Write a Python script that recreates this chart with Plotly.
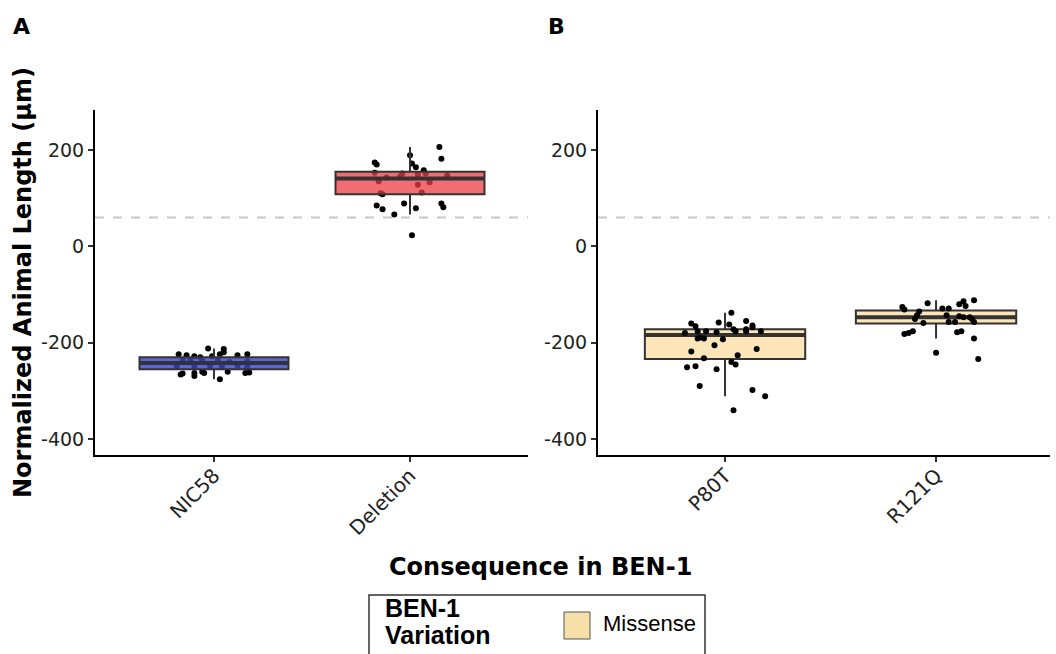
import plotly.graph_objects as go

W, H = 1056, 654

# ---------------- data ----------------
categories_A = ["NIC58", "Deletion"]
categories_B = ["P80T", "R121Q"]

# box statistics
q1_A = [-255, 108]
median_A = [-242, 141]
q3_A = [-230, 155]
lowerfence_A = [-276, 66]
upperfence_A = [-212, 206]

q1_B = [-234, -160]
median_B = [-184, -147]
q3_B = [-172, -133]
lowerfence_B = [-311, -191]
upperfence_B = [-138, -112]

reference_line = 60

# individual animals: jitter offset (category units) and value
nic58_offset = [-0.18, -0.14, -0.10, -0.07, -0.03, -0.01, 0.03, 0.05, 0.05, 0.12, 0.17,
                -0.16, -0.12, -0.06, 0.02, 0.08, 0.17, -0.19, -0.10, -0.02, 0.04, 0.12,
                0.17, -0.17, -0.16, -0.10, -0.10, -0.06, -0.05, 0.07, 0.03, 0.16, 0.18]
nic58_value = [-224, -226, -228, -230, -212, -228, -224, -213, -220, -226, -224,
               -236, -237, -238, -237, -240, -239, -249, -249, -248, -250, -247,
               -250, -266, -264, -263, -269, -260, -263, -260, -276, -263, -262]

deletion_offset = [0.15, 0.16, 0.00, 0.01, 0.03, -0.18, -0.17, 0.07, 0.08, -0.18,
                   -0.04, 0.04, 0.10, 0.19, -0.12, -0.05, -0.16, 0.04, 0.06, -0.15,
                   -0.14, -0.17, -0.14, -0.08, -0.03, 0.03, 0.16, 0.17, 0.01]
deletion_value = [206, 182, 189, 172, 164, 174, 170, 158, 151, 153,
                  151, 149, 133, 147, 143, 145, 135, 128, 112, 110,
                  108, 85, 77, 66, 89, 79, 89, 81, 23]

p80t_offset = [0.03, -0.03, 0.02, -0.16, -0.14, -0.13, -0.09, -0.04, -0.19, 0.04,
               0.05, 0.10, 0.13, 0.13, 0.10, 0.10, 0.17, -0.12, -0.13, -0.10,
               -0.01, -0.05, -0.16, 0.15, 0.06, -0.10, 0.03, 0.05, -0.18, -0.14,
               -0.04, -0.12, 0.13, 0.19, 0.04]
p80t_value = [-138, -158, -162, -160, -166, -176, -176, -178, -180, -172,
              -176, -155, -164, -168, -172, -176, -176, -189, -191, -191,
              -193, -205, -218, -213, -226, -232, -240, -245, -251, -249,
              -255, -290, -298, -311, -340]

r121q_offset = [0.18, 0.13, 0.11, 0.14, -0.04, -0.16, -0.15, 0.03, 0.06, -0.08,
                -0.09, 0.05, 0.11, 0.13, 0.16, -0.10, 0.17, 0.06, 0.09, 0.18,
                -0.06, -0.15, -0.13, -0.11, 0.10, 0.12, 0.18, 0.00, 0.20]
r121q_value = [-112, -114, -120, -124, -118, -126, -131, -129, -129, -135,
               -143, -143, -145, -147, -147, -151, -151, -157, -157, -157,
               -159, -182, -180, -176, -178, -176, -191, -221, -234]

y_ticks = [200, 0, -200, -400]
y_ticktext = ["200", "0", "-200", "-400"]

# ---------------- styles ----------------
fill_A = ["rgba(55,68,210,0.82)", "rgba(235,60,65,0.75)"]
fill_B = "#fce5b8"
legend_swatch = "#f7dfa8"
box_line = "#333333"
box_width = 0.76
y_range = [-433, 283]
xr_A = [-0.607, 1.602]
xr_B = [-0.602, 1.54]

dom_A = [95 / W, 528 / W]
dom_B = [598 / W, 1050 / W]
dom_y = [1 - 455 / H, 1 - 110 / H]

fig = go.Figure()

# ---- Panel A: points underneath, boxes on overlay axes above ----
pts_A = [(nic58_offset, nic58_value), (deletion_offset, deletion_value)]
for i, (off, val) in enumerate(pts_A):
    fig.add_trace(go.Scatter(
        x=[i + o for o in off], y=val, mode="markers",
        marker=dict(color="black", size=6), xaxis="x", yaxis="y",
        showlegend=False, hoverinfo="skip"))

for i in range(len(categories_A)):
    fig.add_trace(go.Box(
        x=[i], q1=[q1_A[i]], median=[median_A[i]], q3=[q3_A[i]],
        lowerfence=[lowerfence_A[i]], upperfence=[upperfence_A[i]],
        width=box_width, whiskerwidth=0, fillcolor=fill_A[i],
        line=dict(color=box_line, width=2), boxpoints=False,
        xaxis="x3", yaxis="y3", showlegend=False, hoverinfo="skip"))
    fig.add_trace(go.Scatter(
        x=[i - box_width / 2, i + box_width / 2], y=[median_A[i]] * 2,
        mode="lines", line=dict(color=box_line, width=4),
        xaxis="x3", yaxis="y3", showlegend=False, hoverinfo="skip"))

# ---- Panel B: boxes below points ----
for i in range(len(categories_B)):
    fig.add_trace(go.Box(
        x=[i], q1=[q1_B[i]], median=[median_B[i]], q3=[q3_B[i]],
        lowerfence=[lowerfence_B[i]], upperfence=[upperfence_B[i]],
        width=box_width, whiskerwidth=0, fillcolor=fill_B,
        line=dict(color=box_line, width=2), boxpoints=False,
        xaxis="x2", yaxis="y2", showlegend=False, hoverinfo="skip"))
    fig.add_trace(go.Scatter(
        x=[i - box_width / 2, i + box_width / 2], y=[median_B[i]] * 2,
        mode="lines", line=dict(color=box_line, width=4),
        xaxis="x2", yaxis="y2", showlegend=False, hoverinfo="skip"))

pts_B = [(p80t_offset, p80t_value), (r121q_offset, r121q_value)]
for i, (off, val) in enumerate(pts_B):
    fig.add_trace(go.Scatter(
        x=[i + o for o in off], y=val, mode="markers",
        marker=dict(color="black", size=6), xaxis="x2", yaxis="y2",
        showlegend=False, hoverinfo="skip"))

tickfont = dict(family="DejaVu Sans", size=19, color="#222222")
xtickfont = dict(family="DejaVu Sans", size=20, color="#222222")

def xaxis(domain, rng, cats, anchor):
    return dict(domain=domain, range=rng, anchor=anchor, showgrid=False, zeroline=False,
                showline=True, linecolor="black", linewidth=2,
                ticks="outside", ticklen=5, tickwidth=1.5, tickcolor="#333333",
                tickmode="array", tickvals=list(range(len(cats))), ticktext=cats,
                tickangle=-45, tickfont=xtickfont, ticklabelstandoff=-6)

def yaxis(rng, anchor):
    return dict(domain=dom_y, range=rng, anchor=anchor, showgrid=False, zeroline=False,
                showline=True, linecolor="black", linewidth=2,
                ticks="outside", ticklen=5, tickwidth=1.5, tickcolor="#333333",
                tickmode="array", tickvals=y_ticks, ticktext=y_ticktext,
                tickfont=tickfont)

shapes = [
    dict(type="line", xref="x domain", yref="y", x0=0, x1=1, y0=reference_line, y1=reference_line,
         line=dict(color="#c8c8c8", width=2, dash="dash"), layer="below"),
    dict(type="line", xref="x2 domain", yref="y2", x0=0, x1=1, y0=reference_line, y1=reference_line,
         line=dict(color="#c8c8c8", width=2, dash="dash"), layer="below"),
    # legend frame and swatch
    dict(type="rect", xref="paper", yref="paper", x0=369 / W, x1=705 / W,
         y0=1 - 670 / H, y1=1 - 595 / H, line=dict(color="#333333", width=1.5),
         fillcolor="white", layer="above"),
    dict(type="rect", xref="paper", yref="paper", x0=564 / W, x1=590 / W,
         y0=1 - 639 / H, y1=1 - 612 / H, line=dict(color="#555555", width=1),
         fillcolor=legend_swatch, layer="above"),
]

def ann(text, px, py, size, bold=False, family="DejaVu Sans", angle=0,
        xanchor="center", yanchor="middle"):
    t = f"<b>{text}</b>" if bold else text
    return dict(text=t, x=px / W, y=1 - py / H, xref="paper", yref="paper",
                showarrow=False, textangle=angle, xanchor=xanchor, yanchor=yanchor,
                font=dict(family=family, size=size, color="black"))

annotations = [
    ann("A", 11, 27, 22, bold=True, xanchor="left"),
    ann("B", 546, 27, 22, bold=True, xanchor="left"),
    ann("Normalized Animal Length (μm)", 23, 283, 24, bold=True, angle=-90),
    ann("Consequence in BEN-1", 540, 567, 24, bold=True),
    ann("BEN-1", 383, 608, 25, bold=True, family="Liberation Sans", xanchor="left"),
    ann("Variation", 383, 635, 25, bold=True, family="Liberation Sans", xanchor="left"),
    ann("Missense", 601, 623, 22, family="Liberation Sans", xanchor="left"),
]

fig.update_layout(
    width=W, height=H, margin=dict(l=0, r=0, t=0, b=0),
    paper_bgcolor="white", plot_bgcolor="white", showlegend=False,
    xaxis=xaxis(dom_A, xr_A, categories_A, "y"),
    yaxis=yaxis(y_range, "x"),
    xaxis2=xaxis(dom_B, xr_B, categories_B, "y2"),
    yaxis2=yaxis(y_range, "x2"),
    xaxis3=dict(overlaying="x", range=xr_A, visible=False, anchor="y3"),
    yaxis3=dict(overlaying="y", range=y_range, visible=False, anchor="x3"),
    shapes=shapes, annotations=annotations,
)

fig.write_html("out.html")
